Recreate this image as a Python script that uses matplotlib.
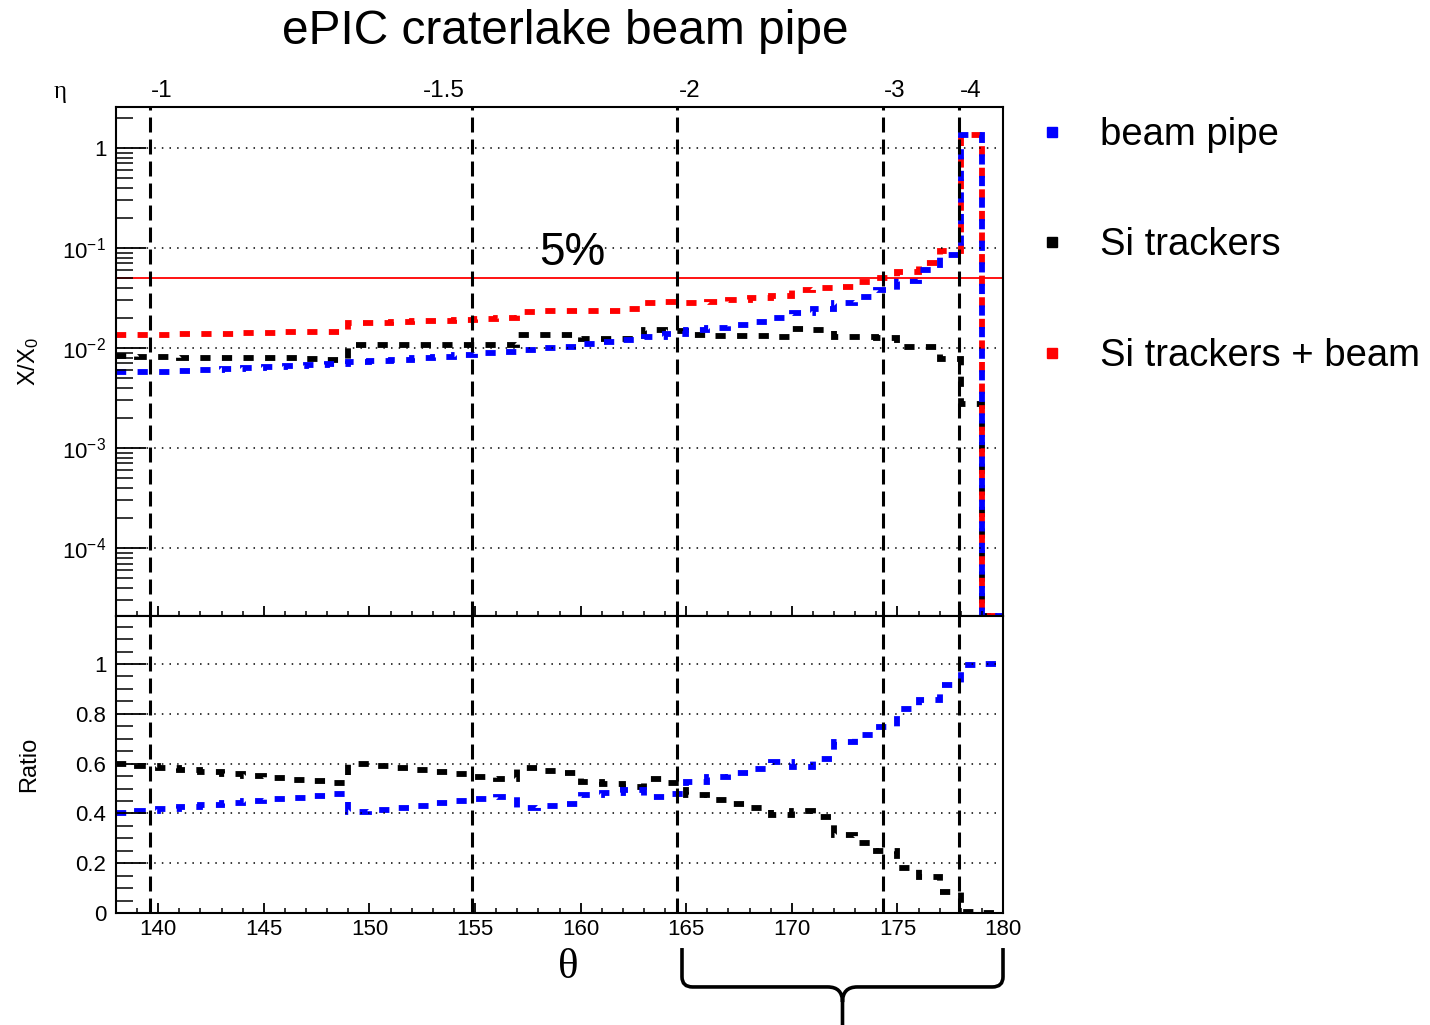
import numpy as np
import matplotlib
matplotlib.use("Agg")
import matplotlib.pyplot as plt
from matplotlib.lines import Line2D
from matplotlib.path import Path
from matplotlib.patches import PathPatch
import matplotlib.transforms as mtransforms
from matplotlib.ticker import LogLocator, FixedLocator, MultipleLocator, FuncFormatter, NullFormatter

plt.rcParams['font.family'] = ['Liberation Sans', 'DejaVu Sans']
plt.rcParams['mathtext.fontset'] = 'custom'
plt.rcParams['mathtext.rm'] = 'Liberation Sans'
plt.rcParams['mathtext.it'] = 'Liberation Sans:italic'

###### bin edges in theta (deg) ######
theta_edges = np.arange(138, 181, 1)

###### X/X0 per bin (138..179) ######
beam_pipe = [0.00571, 0.00575, 0.00580, 0.00589, 0.00598, 0.00612, 0.00626, 0.00646,
             0.00666, 0.00681, 0.00697, 0.00719, 0.00741, 0.00765, 0.00790, 0.00815,
             0.00845, 0.00885, 0.00919, 0.00960, 0.00992, 0.0103, 0.0110, 0.0116,
             0.0121, 0.0128, 0.0137, 0.0150, 0.0158, 0.0169, 0.0182, 0.0200,
             0.0223, 0.0247, 0.0281, 0.0326, 0.0377, 0.0466, 0.0600, 0.0848,
             1.36, 0.0]
si_trackers = [0.00826, 0.00820, 0.00810, 0.00800, 0.00800, 0.00800, 0.00795, 0.00795,
               0.00790, 0.00775, 0.00755, 0.01060, 0.01060, 0.01060, 0.01065, 0.01065,
               0.01070, 0.01070, 0.01075, 0.01360, 0.01360, 0.01350, 0.01230, 0.01230,
               0.01240, 0.01510, 0.01480, 0.01340, 0.01320, 0.01320, 0.01320, 0.01300,
               0.01560, 0.01530, 0.01290, 0.01290, 0.01270, 0.01020, 0.01020, 0.00770,
               0.00276, 0.0]
si_plus_beam = [0.0136, 0.0136, 0.0136, 0.0137, 0.0137, 0.0138, 0.0140, 0.0141,
                0.0143, 0.0145, 0.0146, 0.0178, 0.0178, 0.0181, 0.0185, 0.0188,
                0.0191, 0.0195, 0.0200, 0.0231, 0.0233, 0.0237, 0.0233, 0.0237,
                0.0245, 0.0280, 0.0286, 0.0283, 0.0287, 0.0301, 0.0313, 0.0330,
                0.0379, 0.0399, 0.0408, 0.0458, 0.0502, 0.0570, 0.0708, 0.0927,
                1.36, 0.0]

###### ratios to total ######
ratio_beam = [0.403, 0.410, 0.418, 0.425, 0.432, 0.440, 0.448, 0.456, 0.463, 0.471,
              0.478, 0.407, 0.414, 0.423, 0.431, 0.440, 0.448, 0.457, 0.466, 0.420,
              0.428, 0.438, 0.472, 0.482, 0.496, 0.464, 0.480, 0.526, 0.545, 0.562,
              0.578, 0.607, 0.588, 0.617, 0.686, 0.715, 0.748, 0.820, 0.854, 0.917,
              0.997, 1.0]
ratio_si = [0.598, 0.590, 0.581, 0.573, 0.565, 0.558, 0.551, 0.543, 0.535, 0.529,
            0.521, 0.598, 0.590, 0.581, 0.573, 0.566, 0.558, 0.548, 0.537, 0.584,
            0.572, 0.561, 0.528, 0.517, 0.507, 0.537, 0.521, 0.474, 0.455, 0.438,
            0.422, 0.393, 0.411, 0.384, 0.314, 0.283, 0.251, 0.180, 0.145, 0.083,
            0.003, 0.0]

###### eta reference lines ######
eta_ticks = [-1, -1.5, -2, -3, -4]
eta_labels = ['-1', '-1.5', '-2', '-3', '-4']
eta_ha = ['left', 'right', 'left', 'left', 'left']

legend_labels = ['beam pipe', 'Si trackers', 'Si trackers + beam']
cBlue, cBlack, cRed = '#0000ff', '#000000', '#ff0000'


def eta2theta(eta):
    return np.degrees(2 * np.arctan(np.exp(-np.asarray(eta, dtype=float))))


xlo, xhi = 138, 180
ylo1, yhi1 = 2.09e-5, 2.57
ylo2, yhi2 = 0.0, 1.193

fig = plt.figure(figsize=(14.3, 10.25), dpi=100)
ax1 = fig.add_axes([116 / 1430, 1 - 616 / 1025, 887 / 1430, 509 / 1025])
ax2 = fig.add_axes([116 / 1430, 1 - 913 / 1025, 887 / 1430, 297 / 1025])

hist_lw = 4.2
hist_ls = (0, (1.75, 1.95))

######upper panel######
ax1.set_yscale('log')
for vals, col in [(si_trackers, cBlack), (si_plus_beam, cRed), (beam_pipe, cBlue)]:
    v = np.asarray(vals, dtype=float)
    v = np.where(v > 0, v, ylo1)
    ax1.stairs(v, theta_edges, baseline=None, color=col, lw=hist_lw, ls=hist_ls)

ax1.axhline(0.05, color=cRed, lw=1.3, zorder=1)
ax1.text(159.6, 0.054, '5%', fontsize=33, ha='center', va='bottom')

ax1.set_xlim(xlo, xhi)
ax1.set_ylim(ylo1, yhi1)
ax1.yaxis.set_major_locator(LogLocator(base=10, numticks=10))
ax1.yaxis.set_minor_locator(LogLocator(base=10, subs=np.arange(2, 10), numticks=20))
ax1.yaxis.set_minor_formatter(NullFormatter())
ax1.yaxis.set_major_formatter(FuncFormatter(
    lambda v, p: '1' if abs(v - 1) < 1e-9 else r'$10^{%d}$' % round(np.log10(v))))
ax1.xaxis.set_major_locator(MultipleLocator(5))
ax1.xaxis.set_minor_locator(MultipleLocator(1))
ax1.tick_params(axis='x', labelbottom=False)
ax1.grid(axis='y', which='major', color='k', lw=1.1, ls=(0, (1, 4)))
ax1.set_ylabel('X/X$_0$', fontsize=17)
ax1.yaxis.set_label_coords(-0.085, 0.5)

######lower panel######
for vals, col in [(ratio_si, cBlack), (ratio_beam, cBlue)]:
    ax2.stairs(vals, theta_edges, baseline=None, color=col, lw=hist_lw, ls=hist_ls)

ax2.set_xlim(xlo, xhi)
ax2.set_ylim(ylo2, yhi2)
ax2.yaxis.set_major_locator(FixedLocator([0, 0.2, 0.4, 0.6, 0.8, 1.0]))
ax2.yaxis.set_major_formatter(FuncFormatter(lambda v, p: '%g' % round(v, 1)))
ax2.yaxis.set_minor_locator(MultipleLocator(0.05))
ax2.xaxis.set_major_locator(MultipleLocator(5))
ax2.xaxis.set_minor_locator(MultipleLocator(1))
ax2.grid(axis='y', which='major', color='k', lw=1.1, ls=(0, (1, 4)))
ax2.set_ylabel('Ratio', fontsize=17)
ax2.yaxis.set_label_coords(-0.085, 0.5)
ax2.set_xlabel('θ', fontsize=31, family=['Liberation Serif', 'DejaVu Serif'])
ax2.xaxis.set_label_coords(0.51, -0.12)

for ax in (ax1, ax2):
    ax.tick_params(axis='y', which='major', direction='in', length=21.6, width=1.3,
                   labelsize=16, pad=7, right=False)
    ax.tick_params(axis='y', which='minor', direction='in', length=12, width=1.1, right=False)
    ax.tick_params(axis='x', which='major', direction='in', length=7.2, width=1.3,
                   labelsize=16, pad=4, top=False)
    ax.tick_params(axis='x', which='minor', direction='in', length=3.6, width=1.1, top=False)
    for sp in ax.spines.values():
        sp.set_linewidth(1.5)
    for eta in eta_ticks:
        ax.axvline(eta2theta(eta), color='k', lw=2.2, ls=(0, (4.9, 2.3)), zorder=1.5)

###### eta labels on top ######
top_tr = mtransforms.blended_transform_factory(ax1.transData, ax1.transAxes)
for eta, lab, ha in zip(eta_ticks, eta_labels, eta_ha):
    dx = 0.05 if ha == 'left' else -0.35
    ax1.text(eta2theta(eta) + dx, 1.01, lab, transform=top_tr, ha=ha, va='bottom', fontsize=17.5)
fig.text(60 / 1430, 1 - 92 / 1025, 'η', fontsize=18, ha='center', va='center',
         family=['Liberation Serif', 'DejaVu Serif'])

fig.suptitle('ePIC craterlake beam pipe', x=565 / 1430, y=1 - 31 / 1025, va='center', fontsize=34.5)

###### legend ######
handles = [Line2D([], [], ls='none', marker='s', ms=7.5, color=c, mec=c) for c in (cBlue, cBlack, cRed)]
fig.legend(handles, legend_labels, loc='upper left', bbox_to_anchor=(1033 / 1430, 1 - 117 / 1025),
           frameon=False, fontsize=27.5, handlelength=1.0, handletextpad=0.75, labelspacing=1.95,
           borderaxespad=0, borderpad=0)

###### brace under the forward region ######
br = mtransforms.blended_transform_factory(ax2.transData, ax2.transAxes)
xl, xm, xr = 164.8, 172.4, 180.0
y0, y1, y2, y3, y4 = -0.118, -0.215, -0.249, -0.30, -0.38
verts = [(xl, y0), (xl, y1), (xl, y2), (xl + 0.5, y2), (xm - 0.7, y2), (xm, y2), (xm, y3), (xm, y4),
         (xm, y3), (xm, y2), (xm + 0.7, y2), (xr - 0.5, y2), (xr, y2), (xr, y1), (xr, y0)]
codes = [Path.MOVETO, Path.LINETO, Path.CURVE3, Path.CURVE3, Path.LINETO, Path.CURVE3, Path.CURVE3,
         Path.LINETO, Path.MOVETO, Path.CURVE3, Path.CURVE3, Path.LINETO, Path.CURVE3, Path.CURVE3,
         Path.LINETO]
ax2.add_patch(PathPatch(Path(verts, codes), transform=br, fill=False, lw=2.6, color='k',
                        clip_on=False, capstyle='butt', joinstyle='round'))

fig.savefig('out.png', dpi=100)
